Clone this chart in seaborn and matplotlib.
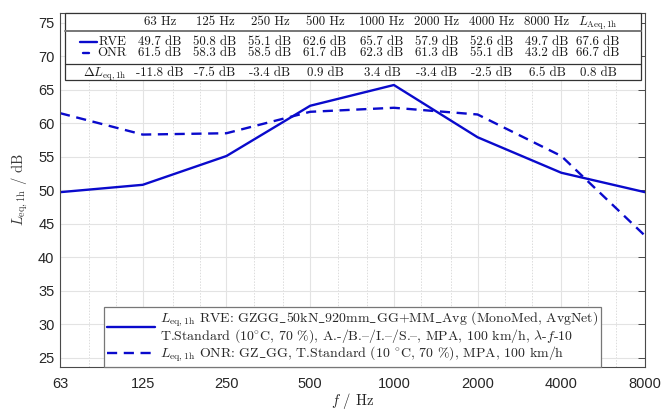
import numpy as np
import pandas as pd
import matplotlib
matplotlib.use("Agg")
import matplotlib.pyplot as plt
import seaborn as sns
from matplotlib.lines import Line2D
from matplotlib.patches import Rectangle
from matplotlib.transforms import Affine2D
from matplotlib.ticker import FixedLocator, FixedFormatter, NullFormatter

# ---------------- data ----------------
freqs = [63, 125, 250, 500, 1000, 2000, 4000, 8000]
freq_labels = ["63", "125", "250", "500", "1000", "2000", "4000", "8000"]
third_octaves = [80, 100, 160, 200, 315, 400, 630, 800, 1250, 1600,
                 2500, 3150, 5000, 6300]
rve = [49.7, 50.8, 55.1, 62.6, 65.7, 57.9, 52.6, 49.7]
onr = [61.5, 58.3, 58.5, 61.7, 62.3, 61.3, 55.1, 43.2]
delta = [-11.8, -7.5, -3.4, 0.9, 3.4, -3.4, -2.5, 6.5]
laeq_rve, laeq_onr, laeq_delta = 67.6, 66.7, 0.8
yticks = [25, 30, 35, 40, 45, 50, 55, 60, 65, 70, 75]

# '{' is the en dash glyph in the cmr10 (OT1) font
label_rve = (r"$L_{\mathrm{eq,1h}}$ RVE: GZGG$\_$50kN$\_$920mm$\_$GG+MM$\_$Avg (MonoMed, AvgNet)"
             "\n" r"T.Standard (10$^{\circ}$C, 70 %), A.-/B.{/I.{/S.{, MPA, 100 km/h, $\lambda$-$f$-10")
label_onr = r"$L_{\mathrm{eq,1h}}$ ONR: GZ$\_$GG, T.Standard (10 $^{\circ}$C, 70 %), MPA, 100 km/h"

# ---------------- style ----------------
sns.set_style("white")
plt.rcParams["mathtext.fontset"] = "cm"
plt.rcParams["font.family"] = ["Liberation Sans", "DejaVu Sans"]
SERIF = ["cmr10", "DejaVu Serif"]
BLUE = "#0a0acc"
AXC = "#4a4a4a"

W, H = 664, 412
fig = plt.figure(figsize=(W / 100, H / 100), dpi=100)
L, R, T, B = 60, 645, 13, 367
ax = fig.add_axes([L / W, 1 - B / H, (R - L) / W, (B - T) / H])
PX = Affine2D().scale(1 / W, -1 / H).translate(0, 1) + fig.transFigure

df = pd.DataFrame({"f": freqs * 2, "L": rve + onr,
                   "src": ["RVE"] * len(freqs) + ["ONR"] * len(freqs)})
ax.set_xscale("log")
sns.lineplot(data=df[df.src == "RVE"], x="f", y="L", ax=ax, color=BLUE,
             lw=1.7, label=label_rve)
sns.lineplot(data=df[df.src == "ONR"], x="f", y="L", ax=ax, color=BLUE,
             lw=1.7, linestyle=(0, (4.3, 2.8)), label=label_onr)

ax.set_xlim(63, 8000)
ax.set_ylim(23.6, 76.45)
ax.xaxis.set_major_locator(FixedLocator(freqs))
ax.xaxis.set_major_formatter(FixedFormatter(freq_labels))
ax.xaxis.set_minor_locator(FixedLocator(third_octaves))
ax.xaxis.set_minor_formatter(NullFormatter())
ax.set_yticks(yticks)
ax.set_yticklabels([str(v) for v in yticks])

ax.grid(True, which="major", color="#e3e3e3", lw=0.8, ls="-")
ax.grid(True, which="minor", axis="x", color="#dcdcdc", lw=0.7, ls=(0, (1.5, 1.5)))
ax.set_axisbelow(True)

ax.tick_params(which="both", direction="in", top=True, right=True,
               color=AXC, labelcolor="#262626", labelsize=10.5)
ax.tick_params(which="major", length=5, width=0.7)
ax.tick_params(which="minor", length=3, width=0.6)
ax.tick_params(axis="x", pad=7)
ax.tick_params(axis="y", pad=4)
for s in ax.spines.values():
    s.set_color(AXC)
    s.set_linewidth(0.8)

ax.set_xlabel(r"$f$ / Hz", fontsize=10.5, family=SERIF, color="#262626")
ax.set_ylabel(r"$L_{\mathrm{eq,1h}}$ / dB", fontsize=10.5, family=SERIF, color="#3a3a3a")
ax.xaxis.set_label_coords(0.5, (B - 391) / (B - T))
ax.yaxis.set_label_coords((30 - L) / (R - L), 0.5)

# ---------------- legend ----------------
leg = ax.legend(loc="lower left", bbox_to_anchor=((104 - L) / (R - L), 0.0),
                borderaxespad=0.0, frameon=True, fancybox=False,
                prop={"family": SERIF, "size": 10}, handlelength=3.5,
                handletextpad=0.3, borderpad=0.2, labelspacing=0.02)
for t in leg.get_texts():
    t.set_linespacing(0.85)
leg.get_frame().set_edgecolor("#777777")
leg.get_frame().set_linewidth(0.9)
leg.get_frame().set_facecolor("white")
leg.get_frame().set_alpha(1)

# ---------------- table ----------------
tx0, tx1, ty0, ty1 = 65, 641, 13, 80
fig.add_artist(Rectangle((tx0, ty0), tx1 - tx0, ty1 - ty0, transform=PX,
                         facecolor="white", edgecolor="#333333", lw=0.9, zorder=5))
for yy, c, lw in [(31, "#777777", 1.4), (64, "#333333", 0.9)]:
    fig.add_artist(Line2D([tx0, tx1], [yy, yy], transform=PX, color=c, lw=lw, zorder=6))

cols = [160, 215, 270, 325, 382, 437, 492, 547]
col_laeq = 598
rows_y = {"head": 22, "rve": 42, "onr": 53, "delta": 73}
tkw = dict(transform=PX, family=SERIF, fontsize=9.3, color="#1a1a1a",
           va="center", zorder=7)

def put(x, y, s, ha="center"):
    fig.text(x, y, s, ha=ha, **tkw)

for f, x in zip(freqs, cols):
    put(x, rows_y["head"], f"{f} Hz")
put(col_laeq, rows_y["head"] + 1, r"$L_{\mathrm{Aeq,1h}}$")
for vals, key, tot in [(rve, "rve", laeq_rve), (onr, "onr", laeq_onr),
                       (delta, "delta", laeq_delta)]:
    for v, x in zip(vals, cols):
        put(x, rows_y[key], f"{v:.1f} dB")
    put(col_laeq, rows_y[key], f"{tot:.1f} dB")
put(127, rows_y["rve"], "RVE", ha="right")
put(127, rows_y["onr"], "ONR", ha="right")
put(127, rows_y["delta"] + 1, r"$\Delta L_{\mathrm{eq,1h}}$", ha="right")
fig.add_artist(Line2D([80, 97], [42, 42], transform=PX, color=BLUE, lw=1.7, zorder=7))
fig.add_artist(Line2D([83, 89], [53, 53], transform=PX, color=BLUE, lw=1.7, zorder=7))

fig.savefig("out.png", dpi=100)
